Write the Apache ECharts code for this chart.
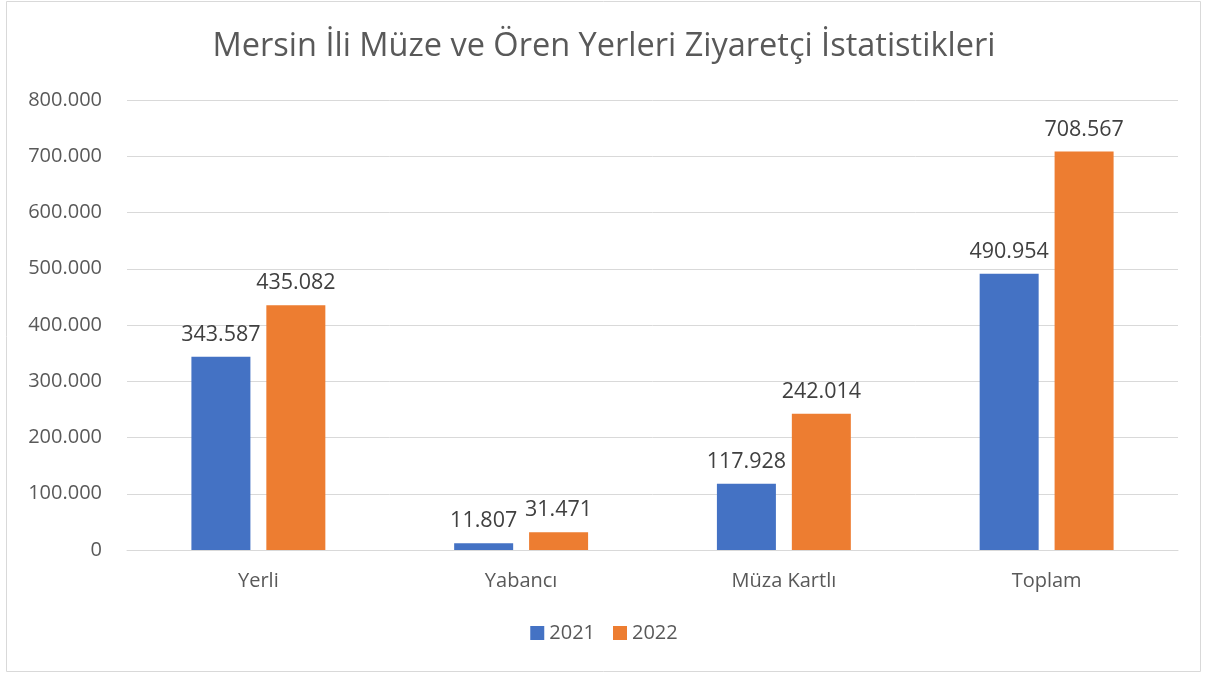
<!DOCTYPE html>
<html><head><meta charset="utf-8">
<script src="https://cdn.jsdelivr.net/npm/echarts@6/dist/echarts.min.js"></script>
<style>html,body{margin:0;padding:0;background:#fff}#c{width:1208px;height:673px}</style>
</head><body><div id="c"></div>
<script>
const categories = ['Yerli', 'Yabancı', 'Müza Kartlı', 'Toplam'];
const series2021 = [343587, 11807, 117928, 490954];
const series2022 = [435082, 31471, 242014, 708567];
const yTicks = [0, 100000, 200000, 300000, 400000, 500000, 600000, 700000, 800000];

const fmt = v => v === 0 ? '0' : v.toLocaleString('de-DE');
const FONT = 'Open Sans';
const chart = echarts.init(document.getElementById('c'), null, {renderer: 'canvas'});
chart.setOption({
  animation: false,
  backgroundColor: '#fff',
  textStyle: {fontFamily: FONT},
  title: {
    text: 'Mersin İli Müze ve Ören Yerleri Ziyaretçi İstatistikleri',
    left: 'center', top: 25,
    textStyle: {fontFamily: FONT, fontSize: 32.5, fontWeight: 'normal', color: '#595959'}
  },
  graphic: [{type: 'rect', shape: {x: 6.5, y: 1.5, width: 1194, height: 670},
    style: {fill: 'none', stroke: '#d9d9d9', lineWidth: 1}, silent: true}],
  legend: {
    bottom: 25, left: 'center', itemWidth: 14, itemHeight: 14, itemGap: 18,
    icon: 'rect',
    textStyle: {fontFamily: FONT, fontSize: 20, color: '#595959'},
    data: ['2021', '2022']
  },
  grid: {left: 127, right: 30, top: 100, bottom: 123, containLabel: false},
  xAxis: {
    type: 'category', data: categories,
    axisTick: {show: false},
    axisLine: {lineStyle: {color: '#d9d9d9'}},
    axisLabel: {fontFamily: FONT, fontSize: 20, color: '#595959', margin: 21}
  },
  yAxis: {
    type: 'value', min: yTicks[0], max: yTicks[yTicks.length - 1], interval: 100000,
    axisLine: {show: false}, axisTick: {show: false},
    splitLine: {lineStyle: {color: '#d9d9d9'}},
    axisLabel: {fontFamily: FONT, fontSize: 20, color: '#595959', margin: 25, formatter: fmt}
  },
  series: [
    {name: '2021', type: 'bar', data: series2021, barWidth: 59, barGap: '27%',
     itemStyle: {color: '#4472C4'},
     label: {show: true, position: 'top', distance: 11, fontFamily: FONT, fontSize: 21.5, color: '#404040', formatter: p => fmt(p.value)}},
    {name: '2022', type: 'bar', data: series2022, barWidth: 59,
     itemStyle: {color: '#ED7D31'},
     label: {show: true, position: 'top', distance: 11, fontFamily: FONT, fontSize: 21.5, color: '#404040', formatter: p => fmt(p.value)}}
  ]
});
</script></body></html>
